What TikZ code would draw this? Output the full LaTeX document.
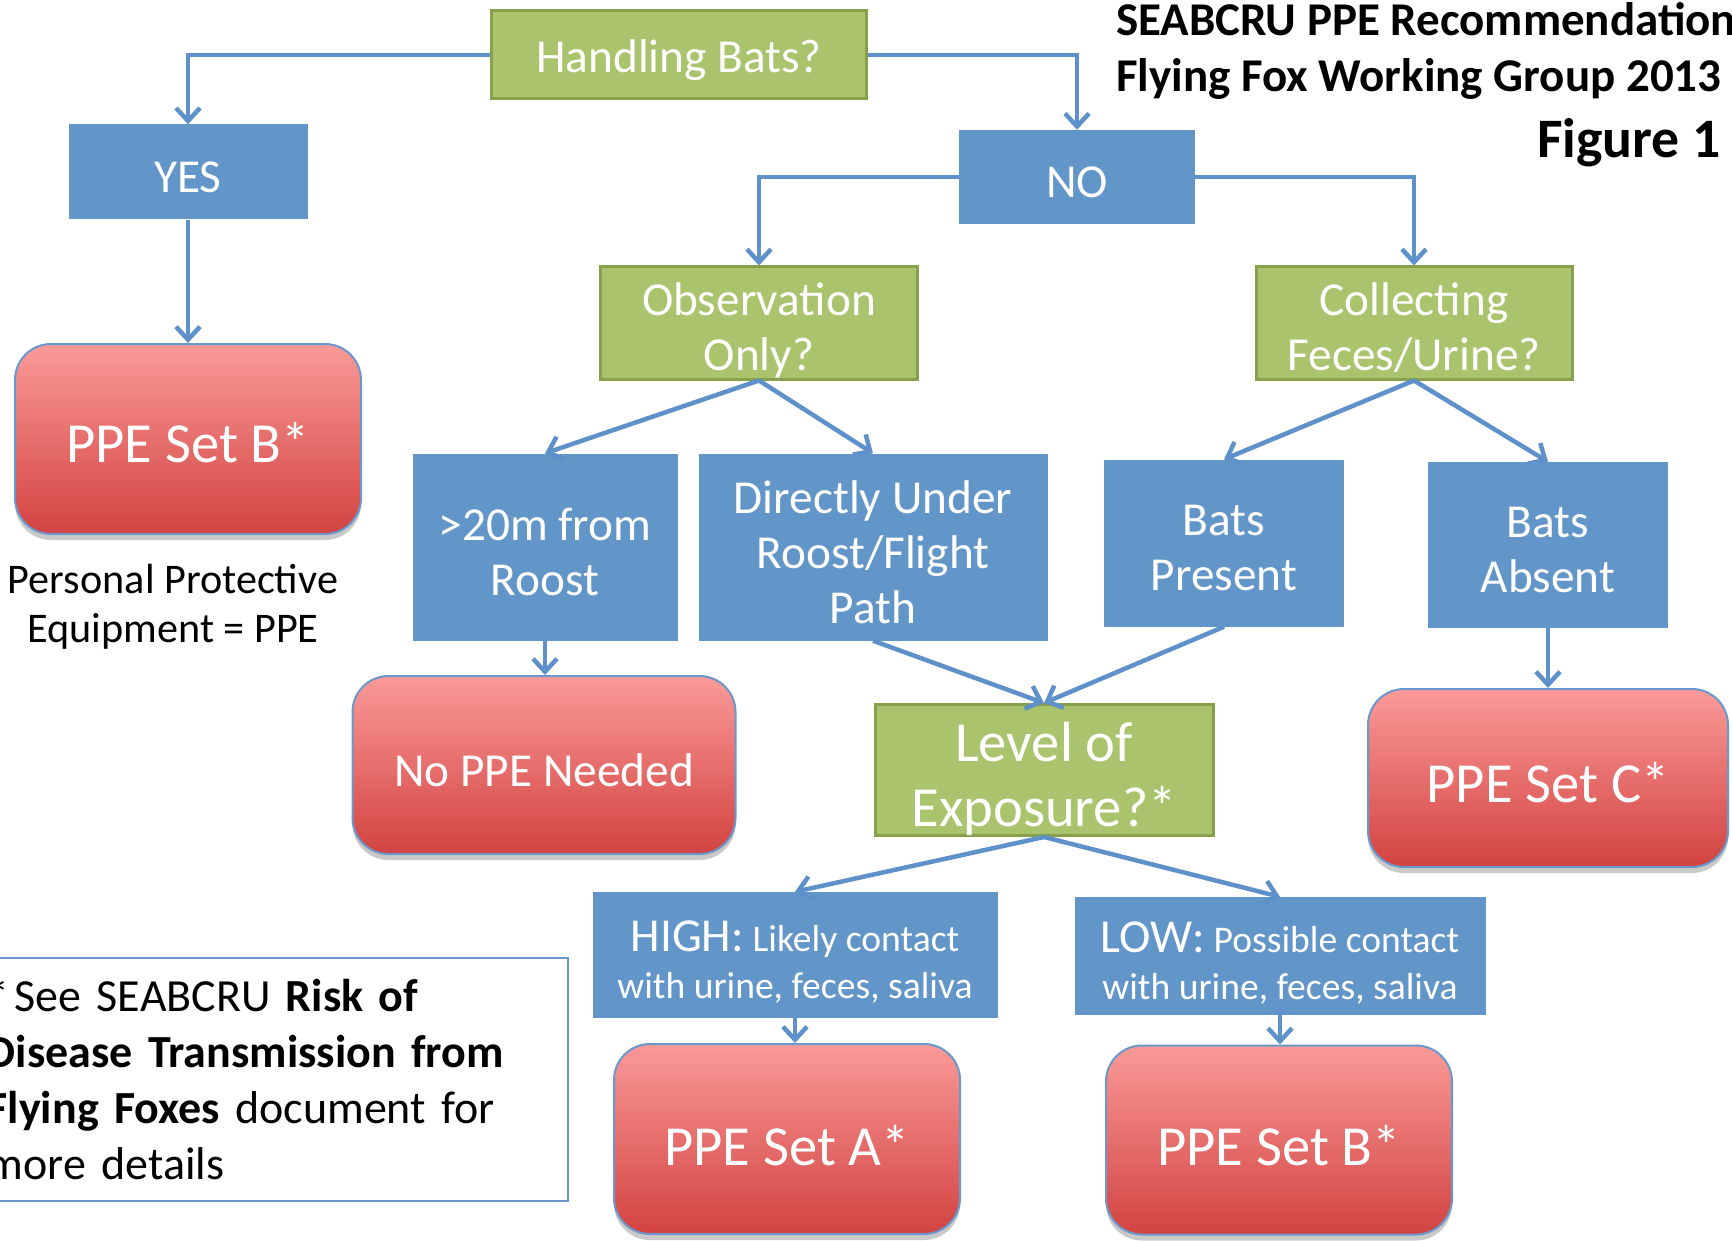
\documentclass[tikz,border=0pt]{standalone}
\usepackage{fontspec}
\setmainfont{Carlito}
\usetikzlibrary{arrows.meta,shadows}
\definecolor{gfill}{HTML}{A9C46C}
\definecolor{gline}{HTML}{86A04C}
\definecolor{bfill}{HTML}{6295C8}
\definecolor{aline}{HTML}{5E91CA}
\definecolor{rtop}{HTML}{FA9A98}
\definecolor{rbot}{HTML}{D24341}
\definecolor{rline}{HTML}{6A97CC}
\newcommand{\fmain}{\fontsize{47.3}{55}\selectfont}
\newcommand{\fbig}{\fontsize{56.6}{65}\selectfont}
\newcommand{\fsmall}{\fontsize{37.6}{47}\selectfont}
\begin{document}
\begin{tikzpicture}[x=1pt,y=-1pt,
  base/.style={inner sep=0pt},
  gbox/.style={base, fill=gfill, draw=gline, line width=3pt},
  bbox/.style={base, fill=bfill},
  rbox/.style={base, top color=rtop, bottom color=rbot, draw=rline, line width=2pt,
     rounded corners=36pt,
     drop shadow={shadow xshift=0pt, shadow yshift=-6pt, opacity=0.3, fill=black!70}},
  txt/.style={inner sep=0pt, align=center, text=white, font=\fmain, yshift=-5pt},
  arr/.style={draw=aline, line width=4.5pt, -{Straight Barb[length=13pt,width=24pt]}},
  plain/.style={inner sep=0pt, text=black}]
\useasboundingbox (0,0) rectangle (1732,1241);

% title
\node[plain, anchor=base west, font=\bfseries\fontsize{47}{55}\selectfont] (t1) at (1116,36) {SEABCRU PPE Recommendation};
\node[plain, anchor=base west, font=\bfseries\fontsize{47}{55}\selectfont] (t2) at (1116,92) {Flying Fox Working Group 2013};
\node[plain, anchor=base east, font=\bfseries\fontsize{55.7}{66}\selectfont] (t3) at (1721,158) {Figure 1};

% nodes
\node[gbox, minimum width=375pt, minimum height=88pt, label={[txt, yshift=-0.5pt]center:Handling Bats?}] (hb) at (679,55) {};
\node[bbox, minimum width=239pt, minimum height=95pt, label={[txt]center:YES}] (yes) at (188,172) {};
\node[bbox, minimum width=236pt, minimum height=94pt, label={[txt, yshift=-0.5pt]center:NO}] (no) at (1077,177) {};
\node[gbox, minimum width=317pt, minimum height=112pt, label={[txt, yshift=-2pt]center:{Observation\\Only?}}] (obs) at (759,323) {};
\node[gbox, minimum width=316pt, minimum height=112pt, label={[txt]center:{Collecting\\Feces/Urine?}}] (col) at (1414,323) {};
\node[rbox, minimum width=346pt, minimum height=190pt, label={[txt, font=\fbig, yshift=1.5pt]center:PPE Set B*}] (ppeb1) at (188,439) {};
\node[bbox, minimum width=265pt, minimum height=187pt, label={[txt]center:{>20m from\\Roost}}] (far) at (545,547) {};
\node[bbox, minimum width=349pt, minimum height=187pt, label={[txt]center:{Directly Under\\Roost/Flight\\Path}}] (dir) at (873,547) {};
\node[bbox, minimum width=240pt, minimum height=167pt, label={[txt]center:{Bats\\Present}}] (bp) at (1224,543) {};
\node[bbox, minimum width=240pt, minimum height=166pt, label={[txt]center:{Bats\\Absent}}] (ba) at (1548,545) {};
\node[rbox, minimum width=383pt, minimum height=178pt, label={[txt, yshift=-0.5pt]center:No PPE Needed}] (noppe) at (544,765) {};
\node[gbox, minimum width=338pt, minimum height=131pt, label={[txt, font=\fbig, yshift=-4pt]center:{Level of\\Exposure?*}}] (lvl) at (1044,770) {};
\node[rbox, minimum width=360pt, minimum height=178pt, label={[txt, font=\fbig]center:PPE Set C*}] (ppec) at (1548,778) {};
\node[bbox, minimum width=405pt, minimum height=126pt, label={[txt, font=\fsmall, yshift=-2.5pt]center:{{\fontsize{47.3}{47}\selectfont HIGH:} Likely contact\\with urine, feces, saliva}}] (high) at (795,955) {};
\node[bbox, minimum width=411pt, minimum height=118pt, label={[txt, font=\fsmall, yshift=-2.5pt]center:{{\fontsize{47.3}{47}\selectfont LOW:} Possible contact\\with urine, feces, saliva}}] (low) at (1280,956) {};
\node[rbox, minimum width=346pt, minimum height=190pt, label={[txt, font=\fbig, yshift=-1.5pt]center:PPE Set A*}] (ppea) at (787,1139) {};
\node[rbox, minimum width=346pt, minimum height=189pt, label={[txt, font=\fbig, yshift=-0.5pt]center:PPE Set B*}] (ppeb2) at (1279,1140) {};

% side texts
\node[plain, align=center, font=\fontsize{42.2}{49}\selectfont] (ppedef) at (173,607) {Personal Protective\\Equipment = PPE};
\node[plain, draw=rline, line width=1.5pt, anchor=west, inner xsep=6pt, text width=575pt,
      minimum height=243pt, align=left, font=\fontsize{46}{56}\selectfont] (note) at (-20,1079.5)
  {*\hspace{5pt}See SEABCRU \textbf{Risk of}\\\textbf{Disease Transmission from}\\\textbf{Flying Foxes} document for\\more details};

% connectors
\draw[arr] (hb.west) -| (yes.north);
\draw[arr] (hb.east) -| (no.north);
\draw[arr] (yes.south) -- (ppeb1.north);
\draw[arr] (no.west) -| (obs.north);
\draw[arr] (no.east) -| (col.north);
\draw[arr] (obs.south) -- (far.north);
\draw[arr] (obs.south) -- (dir.north);
\draw[arr] (col.south) -- (bp.north);
\draw[arr] (col.south) -- (ba.north);
\draw[arr] (far.south) -- (far.south |- noppe.north);
\draw[arr] (dir.south) -- (lvl.north);
\draw[arr] (bp.south) -- (lvl.north);
\draw[arr] (ba.south) -- (ppec.north);
\draw[arr] (lvl.south) -- (high.north);
\draw[arr] (lvl.south) -- (low.north);
\draw[arr] (high.south) -- (high.south |- ppea.north);
\draw[arr] (low.south) -- (low.south |- ppeb2.north);
\end{tikzpicture}
\end{document}
